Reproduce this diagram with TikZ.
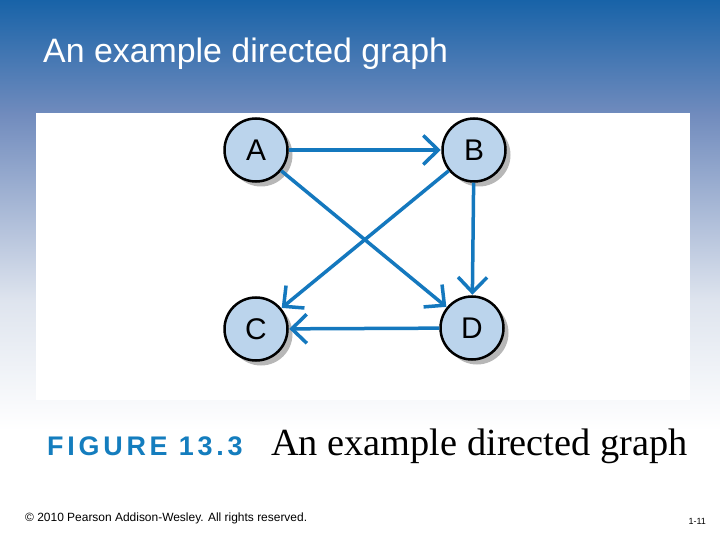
\documentclass[tikz,border=0pt]{standalone}
\usepackage{fontspec}
\setmainfont{Liberation Sans}
\newfontfamily\capserif{Liberation Serif}
\newfontfamily\figlabel[LetterSpace=14]{Liberation Sans}
\usetikzlibrary{arrows.meta,shadows}
\definecolor{bgA}{RGB}{24,99,168}
\definecolor{bgB}{RGB}{112,139,189}
\definecolor{bgC}{RGB}{222,228,238}
\definecolor{edgeblue}{RGB}{20,120,190}
\definecolor{nodefill}{RGB}{187,212,236}
\definecolor{figblue}{RGB}{20,125,190}
\tikzset{
  vert/.style={circle, draw=black, line width=2.5bp, fill=nodefill,
    minimum size=63bp, inner sep=0pt,
    font=\fontsize{30}{32}\selectfont,
    drop shadow={shadow xshift=5bp, shadow yshift=-5bp, fill=black!40, opacity=0.7}},
  edge/.style={draw=edgeblue, line width=3.5bp,
    -{Straight Barb[length=15bp,width=29bp]}, shorten >=0.5bp},
}
\begin{document}
\begin{tikzpicture}[x=1bp,y=-1bp]
\useasboundingbox (0,0) rectangle (720,540);
% background gradient
\shade[top color=bgA, bottom color=bgB] (0,0) rectangle (720,113.5);
\shade[top color=bgB, bottom color=bgC] (0,113) rectangle (720,300.5);
\shade[top color=bgC, bottom color=white] (0,300) rectangle (720,430.5);
\fill[white] (0,430) rectangle (720,540);
% figure panel
\fill[white] (36,113) rectangle (690,400);
% title
\node[anchor=base west, text=white, inner sep=0pt, font=\fontsize{34}{37}\selectfont] (title) at (43,63) {An example directed graph};
% nodes
\node[vert] (A) at (256,150) {A};
\node[vert] (B) at (474,150) {B};
\node[vert] (C) at (256,329) {C};
\node[vert] (D) at (472,328) {D};
% edges
\draw[edge] (A) -- (B);
\draw[edge] (A) -- (D);
\draw[edge] (B) -- (C);
\draw[edge] (B) -- (D);
\draw[edge] (D) -- (C);
% caption
\node[anchor=base west, inner sep=0pt, text=figblue, font=\figlabel\bfseries\fontsize{27}{30}\selectfont] (figno) at (47,455) {FIGURE 13.3};
\node[anchor=base west, inner sep=0pt, font=\capserif\fontsize{38.5}{41}\selectfont] (figcap) at (271,455) {An example directed graph};
% footer
\node[anchor=base west, inner sep=0pt, font=\fontsize{12}{14}\selectfont] (copy) at (25,521) {© 2010 Pearson Addison-Wesley. All rights reserved.};
\node[anchor=base east, inner sep=0pt, font=\fontsize{9}{11}\selectfont] (pg) at (706,524) {1-11};
\end{tikzpicture}
\end{document}
